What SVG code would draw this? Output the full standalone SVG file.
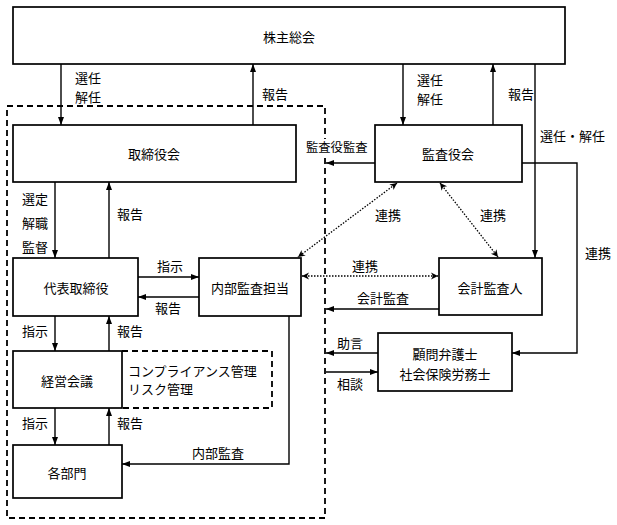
<svg xmlns="http://www.w3.org/2000/svg" width="617" height="525" viewBox="0 0 617 525">
<style>
.box{fill:#fff;stroke:#000;stroke-width:1.7}
.dash{fill:none;stroke:#000;stroke-width:1.8;stroke-dasharray:6 4}
.ln{fill:none;stroke:#000;stroke-width:1.4}
.arr{marker-end:url(#ah)}
.dot{fill:none;stroke:#000;stroke-width:1.3;stroke-dasharray:1.5 1.5;marker-start:url(#cs);marker-end:url(#ce)}
text{font-family:"Noto Sans CJK JP","Noto Sans CJK SC",sans-serif;font-size:13px;fill:#000}
.c{text-anchor:middle;dominant-baseline:central}
.l{dominant-baseline:central}
</style>
<defs>
<marker id="ah" viewBox="0 0 8 6" refX="8" refY="3" markerWidth="8" markerHeight="6" markerUnits="userSpaceOnUse" orient="auto">
<path d="M0,0 L8,3 L0,6 z" fill="#000"/>
</marker>
<marker id="ce" viewBox="0 0 8 8" refX="8" refY="4" markerWidth="8" markerHeight="8" markerUnits="userSpaceOnUse" orient="auto">
<path d="M1,0.5 L8,4 L1,7.5 L3,4 z" fill="#000"/>
</marker>
<marker id="cs" viewBox="0 0 8 8" refX="0" refY="4" markerWidth="8" markerHeight="8" markerUnits="userSpaceOnUse" orient="auto">
<path d="M7,0.5 L0,4 L7,7.5 L5,4 z" fill="#000"/>
</marker>
</defs>

<g id="group-boundary">
<rect class="dash" x="7" y="106" width="318" height="412"/>
</g>

<g id="connectors">
<line class="ln arr" x1="61" y1="64" x2="61" y2="125"/>
<line class="ln arr" x1="253" y1="125" x2="253" y2="64"/>
<line class="ln arr" x1="403" y1="64" x2="403" y2="125"/>
<line class="ln arr" x1="493" y1="125" x2="493" y2="64"/>
<line class="ln arr" x1="535" y1="64" x2="535" y2="258"/>
<path class="ln arr" d="M522,163 H577 V353 H512"/>
<line class="ln arr" x1="375" y1="163" x2="326" y2="163"/>
<line class="dot" x1="397" y1="183" x2="298" y2="257"/>
<line class="dot" x1="440" y1="183" x2="498" y2="257"/>
<line class="dot" x1="302" y1="276" x2="438" y2="276"/>
<line class="ln arr" x1="439" y1="309" x2="326" y2="309"/>
<line class="ln arr" x1="378" y1="353" x2="326" y2="353"/>
<line class="ln arr" x1="326" y1="372" x2="378" y2="372"/>
<line class="ln arr" x1="55" y1="182" x2="55" y2="258"/>
<line class="ln arr" x1="109" y1="258" x2="109" y2="182"/>
<line class="ln arr" x1="138" y1="277" x2="199" y2="277"/>
<line class="ln arr" x1="199" y1="297" x2="138" y2="297"/>
<line class="ln arr" x1="55" y1="316" x2="55" y2="351"/>
<line class="ln arr" x1="109" y1="351" x2="109" y2="316"/>
<line class="ln arr" x1="55" y1="408" x2="55" y2="445"/>
<line class="ln arr" x1="109" y1="445" x2="109" y2="408"/>
<path class="ln arr" d="M289,316 V464 H122"/>
</g>

<g id="labels">
<text class="l" x="75" y="77">選任</text>
<text class="l" x="75" y="96">解任</text>
<text class="l" x="262" y="93">報告</text>
<text class="l" x="417" y="79">選任</text>
<text class="l" x="417" y="98">解任</text>
<text class="l" x="508" y="93">報告</text>
<text class="l" x="540" y="135">選任・解任</text>
<rect x="305" y="139" width="64" height="17" fill="#fff"/>
<text class="l" x="306" y="147" style="font-size:12.3px">監査役監査</text>
<text class="l" x="375" y="214">連携</text>
<text class="l" x="480" y="214">連携</text>
<text class="l" x="585" y="252">連携</text>
<text class="l" x="352" y="265">連携</text>
<text class="l" x="357" y="297">会計監査</text>
<text class="l" x="337" y="342">助言</text>
<text class="l" x="337" y="383">相談</text>
<text class="l" x="22" y="198">選定</text>
<text class="l" x="22" y="222">解職</text>
<text class="l" x="22" y="246">監督</text>
<text class="l" x="117" y="213">報告</text>
<text class="l" x="157" y="265">指示</text>
<text class="l" x="155" y="307">報告</text>
<text class="l" x="22" y="330">指示</text>
<text class="l" x="117" y="330">報告</text>
<text class="l" x="22" y="422">指示</text>
<text class="l" x="117" y="422">報告</text>
<text class="l" x="192" y="452">内部監査</text>
</g>

<g id="node-shareholders">
<rect class="box" x="13" y="7" width="552" height="57"/>
<text class="c" x="289" y="36">株主総会</text>
</g>
<g id="node-board">
<rect class="box" x="13" y="125" width="283" height="57"/>
<text class="c" x="154" y="153">取締役会</text>
</g>
<g id="node-auditors">
<rect class="box" x="375" y="125" width="147" height="57"/>
<text class="c" x="448" y="153">監査役会</text>
</g>
<g id="node-ceo">
<rect class="box" x="13" y="258" width="125" height="58"/>
<text class="c" x="76" y="287">代表取締役</text>
</g>
<g id="node-internal-audit">
<rect class="box" x="199" y="258" width="102" height="58"/>
<text class="c" x="250" y="287">内部監査担当</text>
</g>
<g id="node-accounting-auditor">
<rect class="box" x="439" y="258" width="103" height="57"/>
<text class="c" x="490" y="287">会計監査人</text>
</g>
<g id="node-management">
<rect class="box" x="13" y="351" width="109" height="57"/>
<text class="c" x="67" y="380">経営会議</text>
</g>
<g id="node-compliance">
<path class="dash" d="M122,351 H272 V408 H122"/>
<text class="l" x="128" y="370">コンプライアンス管理</text>
<text class="l" x="128" y="388">リスク管理</text>
</g>
<g id="node-departments">
<rect class="box" x="13" y="445" width="109" height="53"/>
<text class="c" x="67" y="472">各部門</text>
</g>
<g id="node-advisors">
<rect class="box" x="378" y="333" width="134" height="58"/>
<text class="c" x="445" y="353">顧問弁護士</text>
<text class="c" x="445" y="373">社会保険労務士</text>
</g>
</svg>
